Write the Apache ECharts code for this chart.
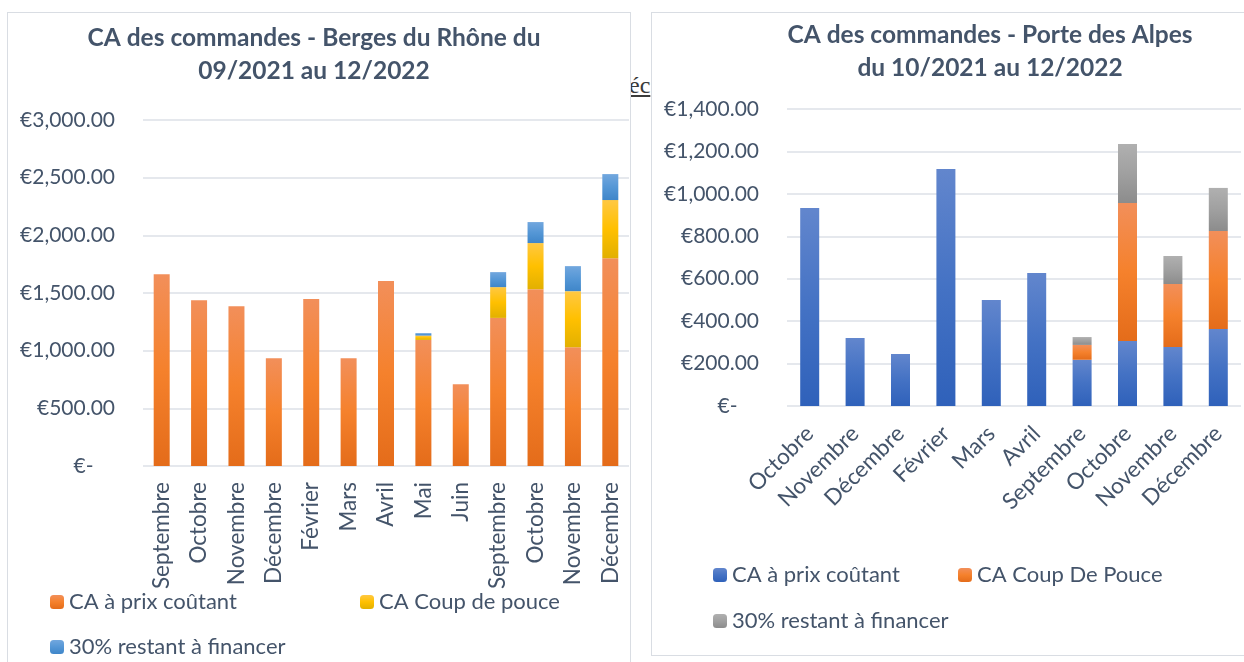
<!DOCTYPE html>
<html>
<head>
<meta charset="utf-8">
<script src="https://cdn.jsdelivr.net/npm/echarts@6/dist/echarts.min.js"></script>
<style>
    html, body {margin: 0; padding: 0; background: #fff; width: 1244px; height: 662px; overflow: hidden;}
    .frame {position: absolute; box-sizing: border-box; border: 1px solid #d9dde3; background: #fff;}
    #left {left: 7px; top: 12px; width: 624px; height: 720px;}
    #right {left: 651px; top: 12px; width: 620px; height: 644px;}
    .stray {position: absolute; left: 629px; top: 72px; font-family: 'Liberation Serif', serif; font-size: 24px; color: #3a3a3a; text-decoration: underline;}
</style>
</head>
<body>
<span class="stray">éc</span>
<div id="left" class="frame"></div>
<div id="right" class="frame"></div>
<script>
// Berges du Rhône, 09/2021 -> 12/2022
let monthsRhone = ['Septembre', 'Octobre', 'Novembre', 'Décembre', 'Février', 'Mars', 'Avril', 'Mai', 'Juin',
    'Septembre', 'Octobre', 'Novembre', 'Décembre'];
let prixCoutantRhone = [1663, 1438, 1386, 935, 1447, 935, 1603, 1093, 709, 1284, 1533, 1030, 1802];
let coupDePouceRhone = [0, 0, 0, 0, 0, 0, 0, 38, 0, 267, 400, 486, 504];
let restantRhone = [0, 0, 0, 0, 0, 0, 0, 21, 0, 130, 182, 217, 225];
let ticksRhone = {min: 0, max: 3000, interval: 500};

// Porte des Alpes, 10/2021 -> 12/2022
let monthsAlpes = ['Octobre', 'Novembre', 'Décembre', 'Février', 'Mars', 'Avril', 'Septembre', 'Octobre',
    'Novembre', 'Décembre'];
let prixCoutantAlpes = [933, 320, 245, 1117, 500, 627, 218, 306, 278, 363];
let coupDePouceAlpes = [0, 0, 0, 0, 0, 0, 70, 651, 297, 462];
let restantAlpes = [0, 0, 0, 0, 0, 0, 37, 278, 132, 203];
let ticksAlpes = {min: 0, max: 1400, interval: 200};

let font = 'Lato';
let textColor = '#44546a';

let grad = (top, mid, bottom) => ({
    type: 'linear', x: 0, y: 0, x2: 0, y2: 1,
    colorStops: [{offset: 0, color: top}, {offset: 0.5, color: mid}, {offset: 1, color: bottom}]
});
let orange = grad('#f28f5a', '#f5812c', '#e46c1a');
let yellow = grad('#ffc843', '#ffc000', '#e2b000');
let lightBlue = grad('#72a7de', '#5597d6', '#3f86c9');
let blue = grad('#6286cd', '#4472c4', '#2f61ba');
let grey = grad('#b0b0b0', '#a0a0a0', '#8c8c8c');

let euro = (value) => value === 0 ? '€-    ' :
    '€' + value.toLocaleString('en-US', {minimumFractionDigits: 2, maximumFractionDigits: 2});

let legendItem = (name, left, top) => ({
    data: [name], left: left, top: top, padding: 0,
    itemWidth: 14, itemHeight: 14, itemGap: 0,
    textStyle: {fontFamily: font, fontSize: 22, color: textColor},
    selectedMode: false
});

let barSeries = (name, values, color, barWidth) => ({
    type: 'bar', name: name, stack: 'total', data: values,
    barWidth: barWidth,
    itemStyle: {color: color},
    emphasis: {disabled: true}
});

let buildOption = (cfg) => ({
    animation: false,
    title: {
        text: cfg.title,
        left: cfg.titleX, top: cfg.titleY, textAlign: 'center',
        textStyle: {fontFamily: font, fontWeight: 'bold', fontSize: 24.5, color: textColor, lineHeight: 33}
    },
    legend: cfg.legends,
    grid: cfg.grid,
    xAxis: {
        type: 'category',
        data: cfg.months,
        axisLine: {show: false},
        axisTick: {show: false},
        axisLabel: {
            interval: 0, rotate: cfg.rotate, margin: cfg.labelMargin,
            fontFamily: font, fontSize: 22.5, color: textColor
        }
    },
    yAxis: {
        type: 'value',
        min: cfg.ticks.min, max: cfg.ticks.max, interval: cfg.ticks.interval,
        axisLabel: {formatter: euro, fontFamily: font, fontSize: 21, color: textColor, margin: 28},
        splitLine: {lineStyle: {color: '#dde1e7', width: 1.5}}
    },
    series: cfg.series
});

let chartRhone = echarts.init(document.getElementById('left'));
chartRhone.setOption(buildOption({
    title: 'CA des commandes - Berges du Rhône du\n09/2021 au 12/2022',
    titleX: 301, titleY: 4,
    months: monthsRhone,
    ticks: ticksRhone,
    rotate: 90, labelMargin: 16,
    grid: {left: 135, top: 107, width: 486, height: 346},
    legends: [
        legendItem('CA à prix coûtant', 42, 578),
        legendItem('CA Coup de pouce', 352, 578),
        legendItem('30% restant à financer', 42, 623)
    ],
    series: [
        barSeries('CA à prix coûtant', prixCoutantRhone, orange, 16),
        barSeries('CA Coup de pouce', coupDePouceRhone, yellow, 16),
        barSeries('30% restant à financer', restantRhone, lightBlue, 16)
    ]
}));

let chartAlpes = echarts.init(document.getElementById('right'));
chartAlpes.setOption(buildOption({
    title: 'CA des commandes - Porte des Alpes\ndu 10/2021 au 12/2022',
    titleX: 333, titleY: 1,
    months: monthsAlpes,
    ticks: ticksAlpes,
    rotate: 45, labelMargin: 24,
    grid: {left: 135, top: 96, width: 454, height: 297},
    legends: [
        legendItem('CA à prix coûtant', 61, 551),
        legendItem('CA Coup De Pouce', 306, 551),
        legendItem('30% restant à financer', 61, 597)
    ],
    series: [
        barSeries('CA à prix coûtant', prixCoutantAlpes, blue, 19),
        barSeries('CA Coup De Pouce', coupDePouceAlpes, orange, 19),
        barSeries('30% restant à financer', restantAlpes, grey, 19)
    ]
}));

window.addEventListener('resize', () => {
    chartRhone.resize();
    chartAlpes.resize();
});
</script>
</body>
</html>
